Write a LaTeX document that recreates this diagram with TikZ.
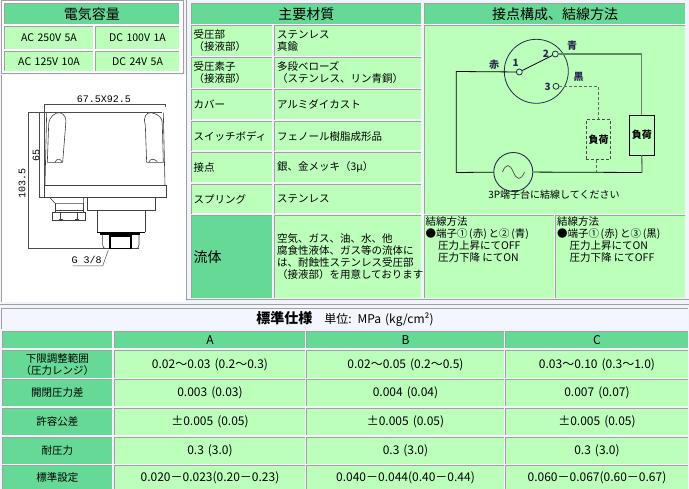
\documentclass[tikz,border=0pt]{standalone}
\usepackage{fontspec}
\setmainfont{Noto Sans CJK JP}
\newfontfamily\drawfont{Liberation Mono}
\definecolor{pagebg}{HTML}{F2F4FB}
\definecolor{titlebg}{HTML}{F3F6FF}
\definecolor{darkgreen}{HTML}{66D996}
\definecolor{lightgreen}{HTML}{BBFFBB}
\definecolor{edgegray}{HTML}{A0A0A0}
\definecolor{wirenavy}{HTML}{2A2A50}
\definecolor{wiregreen}{HTML}{5F8A5F}
\tikzset{
  cellbase/.style={rectangle,inner xsep=2pt,inner ysep=0pt,fill=lightgreen,align=left,
    font=\fontsize{10.5}{12}\selectfont},
  headcell/.style={fill=darkgreen,align=center,font=\fontsize{14}{16}\selectfont},
  sidecell/.style={fill=darkgreen,align=center},
  midcell/.style={align=center,font=\fontsize{12}{14}\selectfont},
  notetext/.style={anchor=north west,inner sep=0pt,align=left,font=\fontsize{10.5}{12}\selectfont},
  edgeline/.style={draw=edgegray,line width=1pt},
  dimline/.style={draw=black!70,line width=0.5pt},
  partline/.style={draw=black!75,line width=0.6pt},
  wire/.style={draw=black,line width=0.8pt},
  loadwire/.style={draw=wiregreen,line width=1.3pt},
  dashwire/.style={draw=black!60,line width=0.7pt,densely dashed},
  terminal/.style={circle,draw=wirenavy,line width=0.8pt,fill=lightgreen,minimum size=6pt,inner sep=0pt},
  wirelabel/.style={font=\fontsize{10}{12}\selectfont\bfseries,text=wirenavy,inner sep=0pt},
  loadbox/.style={rectangle,minimum width=24.4pt,minimum height=40pt,inner sep=0pt,
    font=\fontsize{10}{12}\selectfont\bfseries}
}
% cell: [style]{name}{x1}{y1}{x2}{y2}{text}
\newcommand{\cell}[7][]{%
  \pgfmathsetmacro{\cellw}{#5-#3}
  \pgfmathsetmacro{\cellh}{#6-#4}
  \pgfmathsetmacro{\cellt}{#5-#3-4}
  \node[cellbase,#1,minimum width=\cellw pt,minimum height=\cellh pt,text width=\cellt pt]
    (#2) at ({(#3+#5)/2},{(#4+#6)/2}) {#7};
  \draw[edgeline] (#2.south west) -- (#2.north west) -- (#2.north east);
}
\begin{document}
\begin{tikzpicture}[x=1pt,y=-1pt]
  \useasboundingbox (0,0) rectangle (689,489);
  \fill[pagebg] (0,0) rectangle (689,489);
  % panels
  \filldraw[fill=white,draw=edgegray,line width=1pt] (1,1) rectangle (183,74);
  \fill[white] (1,75) rectangle (186,302);
  \draw[edgeline] (1,75) -- (1,302);
  \draw[edgeline] (186.5,0) -- (186.5,300) -- (689,300);
  \draw[edgeline] (0,305) -- (689,305);

  % capacity
  \cell[headcell]{caphead}{5}{4}{179}{24}{電気容量}
  \foreach \cname/\xa/\ya/\xb/\yb/\txt in {capa/5/27/93/49/{AC 250V 5A},capb/96/27/179/49/{DC 100V 1A},
      capc/5/52/93/71/{AC 125V 10A},capd/96/52/179/71/{DC 24V 5A}}
  {
    \cell[align=center]{\cname}{\xa}{\ya}{\xb}{\yb}{\txt}
  }

  % materials
  \cell[headcell]{mathead}{191.5}{4}{421}{24}{主要材質}
  \foreach \cname/\ya/\yb/\txta/\txtb in {
      press/26/56/{受圧部\\（接液部）}/{ステンレス\\真鍮},
      elem/58/88/{受圧素子\\（接液部）}/{多段ベローズ\\（ステンレス、リン青銅）},
      cover/90/119.5/{カバー}/{アルミダイカスト},
      body/122/150.5/{スイッチボディ}/{フェノール樹脂成形品},
      contact/153/182/{接点}/{銀、金メッキ（3μ）},
      spring/185/213.5/{スプリング}/{ステンレス}}
  {
    \cell{\cname l}{191.5}{\ya}{272}{\yb}{\txta}
    \cell{\cname r}{275}{\ya}{421}{\yb}{\txtb}
  }
  \cell[sidecell,align=left,font=\fontsize{14}{16}\selectfont]{fluidl}{191.5}{216}{272}{298}{流体}
  \cell{fluidr}{275}{216}{421}{298}{空気、ガス、油、水、他\\腐食性液体、ガス等の流体に\\は、耐蝕性ステンレス受圧部\\（接液部）を用意しております}

  % wiring
  \cell[headcell]{wirehead}{425}{4}{685}{24}{接点構成、結線方法}
  \cell{wirecell}{424.5}{26}{685}{214}{}
  \foreach \cname/\xa/\xb/\txt in {
      wirea/424.5/554/{結線方法\\●端子①\,(赤)\,と②\,(青)\\\hspace*{1.2em}圧力上昇にてOFF\\\hspace*{1.2em}圧力下降 にてON},
      wireb/556/685/{結線方法\\●端子①\,(赤)\,と③\,(黒)\\\hspace*{1.2em}圧力上昇にてON\\\hspace*{1.2em}圧力下降 にてOFF}}
  {
    \cell{\cname}{\xa}{216}{\xb}{298}{}
    \node[notetext,xshift=1pt,yshift=-1pt] (\cname txt) at (\cname.north west) {\txt};
  }

  % circuit
  \draw[draw=wirenavy,line width=0.8pt] (536.3,71.3) circle (32);
  \node[terminal] (tone) at (519.3,72) {};
  \node[terminal] (ttwo) at (555.3,54) {};
  \node[terminal] (tthree) at (556,86.3) {};
  \node[circle,draw=wirenavy,line width=0.9pt,minimum size=39pt,inner sep=0pt] (source) at (513.3,172) {};
  \node[loadbox,draw=black,line width=0.9pt] (loada) at (641.8,135) {負荷};
  \node[loadbox,draw=black!70,line width=0.7pt,densely dashed] (loadb) at (598.5,139.8) {負荷};
  \coordinate (leftup) at (456.3,71.5);
  \coordinate (leftdown) at (456.3,172.5);
  \coordinate (rightdown) at (642,172.5);
  \draw[wire] (tone) -- (leftup) -- (leftdown) -- (source);
  \draw[wire] (source) -- (rightdown);
  \draw[wire] (tone) -- (ttwo);
  \draw[loadwire] (ttwo) -| (loada.north);
  \draw[loadwire] (loada.south) -- (rightdown);
  \draw[dashwire] (tthree) -| (loadb.north);
  \draw[dashwire] (loadb.south -| 596.3,0) -- (596.3,172.5);
  \draw[draw=black!70,line width=0.7pt] (502.5,172) .. controls (506,163) and (510,164) .. (513.3,172)
    .. controls (516.5,180) and (521,181) .. (524.5,172);
  \foreach \x/\y/\label in {494/65/赤,572/45.3/青,578.7/76.7/黒,515.7/62.7/1,546/53.7/2,547.7/86.7/3}
  {
    \node[wirelabel] at (\x,\y) {\label};
  }
  \node[inner sep=0pt,font=\fontsize{10}{12}\selectfont] (wirenote) at (554,195) {3P端子台に結線してください};

  % drawing of the switch
  \begin{scope}[shift={(0,75)},x=0.3333pt,y=-0.3333pt]
    \draw[dimline] (133,95) -- (133,87) -- (496,87) -- (496,95);
    \draw[dimline] (133,87) -- (133,330);
    \draw[dimline] (84,113) -- (487,113);
    \draw[dimline] (84,113) -- (84,521) -- (417,521);
    \draw[dimline] (119,113) -- (119,368) -- (133,368);
    \draw[partline] (140,113) -- (135,330);
    \draw[partline] (490,113) -- (495,330);
    \draw[partline] (133,330) rectangle (498,368);
    \draw[partline] (142,262) -- (146,150) .. controls (146,125) and (165,112) .. (180,113)
      .. controls (195,118) and (200,130) .. (197,150) -- (188,262) -- cycle;
    \draw[partline] (165,262) .. controls (170,250) and (180,250) .. (186,260);
    \draw[partline] (440,262) -- (436,150) .. controls (428,125) and (440,113) .. (452,113)
      .. controls (480,118) and (488,130) .. (487,150) -- (490,262) -- cycle;
    \draw[partline] (446,262) .. controls (452,250) and (462,250) .. (472,260);
    % small port
    \draw[partline] (150,368) -- (165,385) -- (250,385) -- (250,368);
    \draw[partline] (165,385) -- (165,405) -- (250,405) -- (250,385);
    \draw[partline] (157,412) rectangle (255,435);
    \draw[partline] (165,405) -- (165,412);
    \draw[partline] (250,405) -- (250,412);
    \foreach \x in {182,232}
    {
      \draw[partline] (\x,413) -- (\x,434);
      \draw[partline] (\x-6,413) -- (\x+6,413);
      \draw[partline] (\x-6,434) -- (\x+6,434);
    }
    % main port
    \draw[partline] (262,368) -- (262,405) -- (465,405) -- (465,368);
    \draw[partline] (292,405) -- (292,472);
    \draw[partline] (435,405) -- (435,472);
    \draw[draw=black,line width=1.5pt] (292,472) -- (435,472);
    \draw[draw=black,line width=1.5pt] (300,477) -- (420,477);
    \draw[partline] (308,480) -- (308,510) .. controls (308,518) and (312,521) .. (318,521);
    \draw[partline] (417,480) -- (417,510) .. controls (417,518) and (412,521) .. (408,521);
    \draw[draw=black,line width=1.2pt] (330,483) rectangle (393,520);
    \draw[dimline] (218,573) -- (308,573) -- (325,525);
    \node[font=\fontsize{10}{12}\selectfont\drawfont,inner sep=0pt] (threadtxt) at (260,555) {G 3/8};
    \node[font=\fontsize{10}{12}\selectfont\drawfont,inner sep=0pt] (widthtxt) at (312,72) {67.5X92.5};
    \node[font=\fontsize{10}{12}\selectfont\drawfont,inner sep=0pt,rotate=90] (hghttxt) at (108,242) {65};
    \node[font=\fontsize{10}{12}\selectfont\drawfont,inner sep=0pt,rotate=90] (totaltxt) at (66,325) {103.5};
  \end{scope}

  % spec table
  \cell[fill=titlebg,align=center,font=\fontsize{12}{14}\selectfont]{spectitle}{2}{309}{688}{329}{{\fontsize{14}{14}\selectfont\bfseries 標準仕様}\quad 単位: MPa (kg/cm²)}
  \cell[sidecell]{headside}{3}{332}{112}{348}{}
  \foreach \cname/\xa/\xb/\txt in {heada/115/305/A,headb/307/504/B,headc/506/688/C}
  {
    \cell[sidecell,font=\fontsize{12}{14}\selectfont]{\cname}{\xa}{332}{\xb}{348}{\txt}
  }
  \foreach \cname/\ya/\yb/\txt/\vala/\valb/\valc in {
      range/351/378/{下限調整範囲\\（圧力レンジ）}/{0.02～0.03 (0.2～0.3)}/{0.02～0.05 (0.2～0.5)}/{0.03～0.10 (0.3～1.0)},
      diff/380/406/{開閉圧力差}/{0.003 (0.03)}/{0.004 (0.04)}/{0.007 (0.07)},
      toler/409/435/{許容公差}/{±0.005 (0.05)}/{±0.005 (0.05)}/{±0.005 (0.05)},
      proof/438/464/{耐圧力}/{0.3 (3.0)}/{0.3 (3.0)}/{0.3 (3.0)},
      preset/466/489/{標準設定}/{0.020－0.023(0.20－0.23)}/{0.040－0.044(0.40－0.44)}/{0.060－0.067(0.60－0.67)}}
  {
    \cell[sidecell]{\cname s}{3}{\ya}{112}{\yb}{\txt}
    \cell[midcell]{\cname a}{115}{\ya}{305}{\yb}{\vala}
    \cell[midcell]{\cname b}{307}{\ya}{504}{\yb}{\valb}
    \cell[midcell]{\cname c}{506}{\ya}{688}{\yb}{\valc}
  }
\end{tikzpicture}
\end{document}
